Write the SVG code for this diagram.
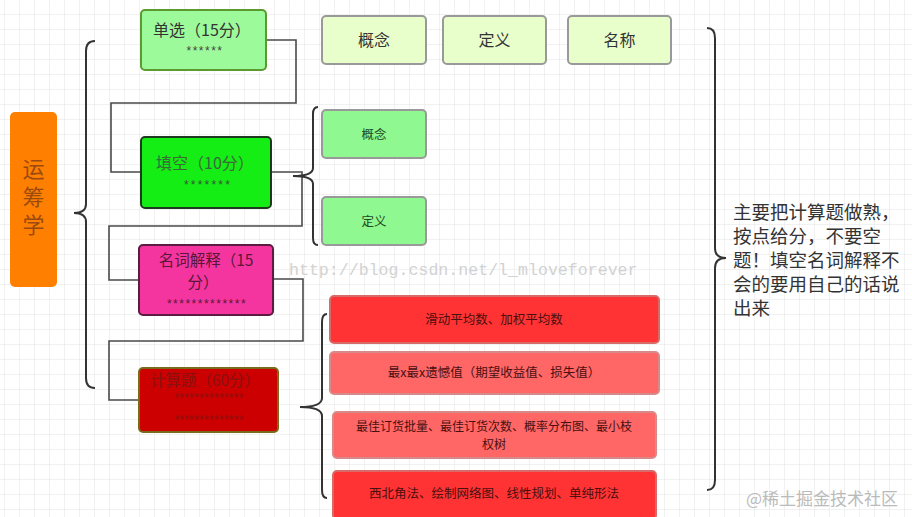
<svg xmlns="http://www.w3.org/2000/svg" width="912" height="517" viewBox="0 0 912 517">
<defs>
<pattern id="grid" x="4" y="14" width="15" height="15" patternUnits="userSpaceOnUse">
<path d="M0,0 H15 M0,0 V15" fill="none" stroke="#e4e4e4" stroke-width="1"/>
</pattern>
<style>
text{font-family:"Noto Sans CJK SC","Liberation Sans",sans-serif;text-anchor:middle}
.box{stroke-width:2}
.conn{fill:none;stroke:#4a4a4a;stroke-width:1.6}
.brace{fill:none;stroke:#333;stroke-width:2}
.top{fill:#e8ffcc;stroke:#999;stroke-width:2}
.lg{fill:#90f890;stroke:#999;stroke-width:2}
.t16{font-size:16px;fill:#333}
.t13{font-size:12.5px}
.star{font-family:"Liberation Sans",sans-serif;font-size:12px;letter-spacing:1.5px}
</style>
</defs>
<rect width="912" height="517" fill="#fff"/>
<rect width="912" height="517" fill="url(#grid)"/>

<g id="connectors">
<polyline class="conn" points="266,40 296,40 296,103 111,103 111,172 141,172"/>
<polyline class="conn" points="271,172 302,172 302,226 109,226 109,280 139,280"/>
<polyline class="conn" points="273,279 303,279 303,341 109,341 109,400 139,400"/>
<path class="brace" d="M95,41 Q86,41 86,51 L86,204 Q86,213 74,213 Q86,213 86,222 L86,378 Q86,388 95,388"/>
<path class="brace" d="M318,107 Q313,107 313,114 L313,168 Q313,176 293,176 Q313,176 313,184 L313,238 Q313,245 318,245"/>
<path class="brace" d="M327,314 Q322,314 322,322 L322,398 Q322,407 300,407 Q322,407 322,416 L322,490 Q322,498 327,498"/>
<path class="brace" d="M707,28 Q715,28 715,38 L715,248 Q715,258 726,258 Q715,258 715,268 L715,480 Q715,490 707,490"/>
</g>

<g id="root">
<rect x="10" y="112" width="47" height="175" rx="5" fill="#ff8000"/>
<text x="33.5" y="200" style="font-size:22px;fill:#9a4a10;writing-mode:vertical-rl;letter-spacing:6px">运筹学</text>
</g>

<g id="danxuan">
<rect class="box" x="141" y="10" width="125" height="60" rx="4" fill="#9cfa9a" stroke="#5a9a30"/>
<text class="t16" x="202" y="36">单选（15分）</text>
<text class="star" x="205" y="55" style="fill:#444">******</text>
</g>

<g id="tiankong">
<rect class="box" x="141" y="137" width="130" height="71" rx="4" fill="#14ee14" stroke="#1e3a1e"/>
<text x="205" y="169" style="font-size:16px;fill:#3a6a3a">填空（10分）</text>
<text class="star" x="208" y="189" style="fill:#335533;letter-spacing:2.2px">*******</text>
</g>

<g id="mingci">
<rect class="box" x="139" y="245" width="134" height="70" rx="4" fill="#f5359f" stroke="#5a1c40"/>
<text x="206" y="266" style="font-size:15.5px;fill:#5a1838">名词解释（15</text>
<text x="203" y="288" style="font-size:15.5px;fill:#5a1838">分）</text>
<text class="star" x="207" y="308" style="fill:#5a1838">*************</text>
</g>

<g id="jisuan">
<rect class="box" x="139" y="368" width="139" height="64" rx="4" fill="#cc0000" stroke="#7a6a1a"/>
<text x="205" y="386" style="font-size:15.5px;fill:#8a1010">计算题（60分）</text>
<text class="star" x="209" y="402" style="fill:#8a1010;letter-spacing:0.3px">**************</text>
<text class="star" x="209" y="424" style="fill:#8a1010;letter-spacing:0.3px">**************</text>
</g>

<g id="gainian-top">
<rect class="top" x="322" y="16" width="104" height="48" rx="4"/>
<text class="t16" x="374" y="46">概念</text>
</g>
<g id="dingyi-top">
<rect class="top" x="443" y="16" width="103" height="48" rx="4"/>
<text class="t16" x="494.5" y="46">定义</text>
</g>
<g id="mingcheng-top">
<rect class="top" x="568" y="16" width="103" height="48" rx="4"/>
<text class="t16" x="619.5" y="46">名称</text>
</g>

<g id="gainian">
<rect class="lg" x="322" y="110" width="104" height="48" rx="4"/>
<text class="t13" x="374" y="139" style="fill:#1e4a1e">概念</text>
</g>
<g id="dingyi">
<rect class="lg" x="322" y="197" width="104" height="48" rx="4"/>
<text class="t13" x="374" y="226" style="fill:#1e4a1e">定义</text>
</g>

<g id="r1">
<rect x="330" y="296" width="329" height="47" rx="4" fill="#ff3333" stroke="#d86a6a" stroke-width="2"/>
<text class="t13" x="494" y="324" style="fill:#4a1010">滑动平均数、加权平均数</text>
</g>
<g id="r2">
<rect x="330" y="352" width="329" height="42" rx="4" fill="#ff6666" stroke="#d88a8a" stroke-width="2"/>
<text class="t13" x="494" y="377" style="fill:#4a1010">最x最x遗憾值（期望收益值、损失值）</text>
</g>
<g id="r3">
<rect x="333" y="412" width="323" height="46" rx="4" fill="#ff6666" stroke="#d88a8a" stroke-width="2"/>
<text x="494" y="431" style="font-size:12px;fill:#4a1010">最佳订货批量、最佳订货次数、概率分布图、最小枝</text>
<text x="494" y="449" style="font-size:12px;fill:#4a1010">权树</text>
</g>
<g id="r4">
<rect x="333" y="471" width="323" height="48" rx="4" fill="#ff3333" stroke="#d86a6a" stroke-width="2"/>
<text class="t13" x="494" y="498" style="fill:#4a1010">西北角法、绘制网络图、线性规划、单纯形法</text>
</g>

<g id="note" style="font-size:18.5px;fill:#333">
<text x="733" y="219" style="text-anchor:start">主要把计算题做熟，</text>
<text x="733" y="243" style="text-anchor:start">按点给分，不要空</text>
<text x="733" y="267" style="text-anchor:start">题！填空名词解释不</text>
<text x="733" y="291" style="text-anchor:start">会的要用自己的话说</text>
<text x="733" y="315" style="text-anchor:start">出来</text>
</g>

<text x="289" y="275" style="text-anchor:start;font-family:'Liberation Mono',monospace;font-size:16.6px;fill:#d2d2d2">http://blog.csdn.net/l_mloveforever</text>
<text x="746" y="505" style="text-anchor:start;font-size:17px;fill:#bbbbbb">@稀土掘金技术社区</text>
</svg>
